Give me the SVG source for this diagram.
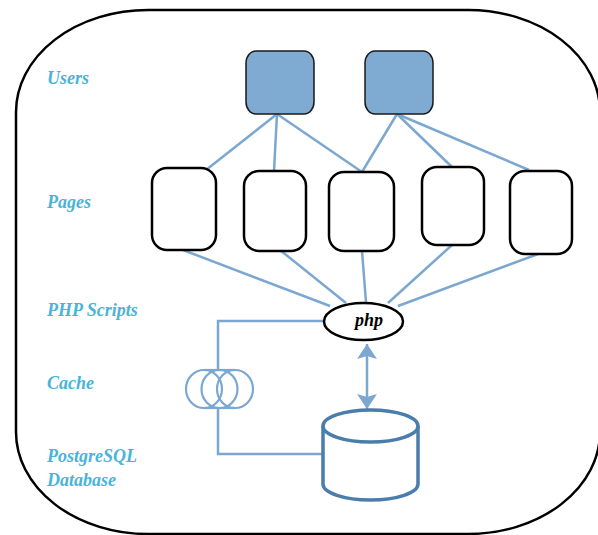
<svg xmlns="http://www.w3.org/2000/svg" width="598" height="535" viewBox="0 0 598 535">
  <style>
    .lbl { font-family: "Liberation Serif", "Times New Roman", serif; font-weight: bold; font-style: italic; font-size: 18px; fill: #4AB3D8; }
    .conn { stroke: #7BA7D1; stroke-width: 2.5; fill: none; }
    .user { fill: #7FAAD1; stroke: #1a1a1a; stroke-width: 1.5; }
    .page { fill: #ffffff; stroke: #000000; stroke-width: 2.5; }
    .db { fill: #ffffff; stroke: #4A7DAB; stroke-width: 3.5; }
    .coil { fill: none; stroke: #7BA7D1; stroke-width: 2.2; }
  </style>
  <defs>
    <marker id="ah" viewBox="0 0 15 20" refX="15" refY="10" markerWidth="15" markerHeight="20" markerUnits="userSpaceOnUse" orient="auto-start-reverse">
      <path d="M0,0 L15,10 L0,20 L3,10 z" fill="#7BA7D1"/>
    </marker>
  </defs>
  <rect width="598" height="535" fill="#ffffff"/>
  <rect id="frame" x="16" y="10" width="584" height="524" rx="132" ry="102" fill="none" stroke="#000000" stroke-width="2.5"/>

  <g id="labels">
    <text class="lbl" x="47" y="84">Users</text>
    <text class="lbl" x="47" y="208">Pages</text>
    <text class="lbl" x="47" y="316">PHP Scripts</text>
    <text class="lbl" x="47" y="389">Cache</text>
    <text class="lbl" x="47" y="462">PostgreSQL</text>
    <text class="lbl" x="47" y="486">Database</text>
  </g>

  <g id="connectors">
    <line class="conn" x1="277" y1="114" x2="206" y2="170"/>
    <line class="conn" x1="277" y1="114" x2="274" y2="171"/>
    <line class="conn" x1="277" y1="114" x2="362" y2="172"/>
    <line class="conn" x1="397" y1="114" x2="362" y2="172"/>
    <line class="conn" x1="397" y1="114" x2="452" y2="167"/>
    <line class="conn" x1="397" y1="114" x2="529" y2="170"/>
    <line class="conn" x1="183" y1="250" x2="330" y2="306"/>
    <line class="conn" x1="280" y1="250" x2="346" y2="303"/>
    <line class="conn" x1="362" y1="251" x2="366" y2="302"/>
    <line class="conn" x1="452" y1="245" x2="388" y2="303"/>
    <line class="conn" x1="538" y1="254" x2="398" y2="306"/>
    <polyline class="conn" points="324,321 218,321 218,370"/>
    <polyline class="conn" points="218,408 218,454 323,454"/>
    <line class="conn" x1="367" y1="344" x2="367" y2="409" marker-start="url(#ah)" marker-end="url(#ah)"/>
  </g>

  <g id="user1"><rect class="user" x="246" y="51" width="68" height="63" rx="10" ry="12"/></g>
  <g id="user2"><rect class="user" x="365" y="51" width="68" height="63" rx="10" ry="12"/></g>

  <g id="page1"><rect class="page" x="152" y="168" width="64" height="82" rx="15"/></g>
  <g id="page2"><rect class="page" x="244" y="171" width="62" height="80" rx="15"/></g>
  <g id="page3"><rect class="page" x="329" y="172" width="65" height="79" rx="15"/></g>
  <g id="page4"><rect class="page" x="422" y="167" width="62" height="78" rx="15"/></g>
  <g id="page5"><rect class="page" x="510" y="171" width="62" height="83" rx="15"/></g>

  <g id="php">
    <ellipse cx="363.5" cy="321.5" rx="39.5" ry="18.5" fill="#ffffff" stroke="#000000" stroke-width="2.5"/>
    <text x="369" y="326" text-anchor="middle" font-family="Liberation Serif, 'Times New Roman', serif" font-weight="bold" font-style="italic" font-size="18" fill="#000000">php</text>
  </g>

  <g id="cache">
    <line class="coil" x1="204" y1="370" x2="235" y2="370"/>
    <line class="coil" x1="204" y1="408" x2="235" y2="408"/>
    <ellipse class="coil" cx="204" cy="389" rx="18" ry="19"/>
    <ellipse class="coil" cx="219.5" cy="389" rx="18" ry="19"/>
    <ellipse class="coil" cx="235" cy="389" rx="18" ry="19"/>
  </g>

  <g id="database">
    <path class="db" d="M323,426 L323,484 A47.5,16 0 0 0 418,484 L418,426"/>
    <ellipse class="db" cx="370.5" cy="426" rx="47.5" ry="16"/>
  </g>
</svg>
